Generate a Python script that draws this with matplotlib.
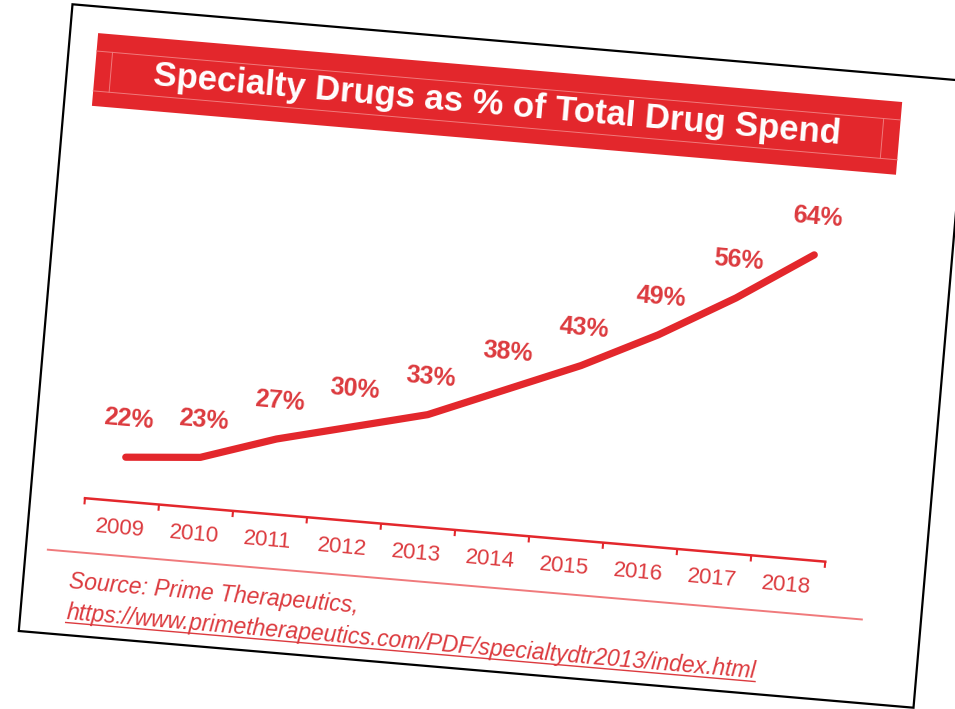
import numpy as np
import matplotlib
matplotlib.use("Agg")
import matplotlib.pyplot as plt
from matplotlib.transforms import Affine2D
from matplotlib.patches import Rectangle

years = ['2009', '2010', '2011', '2012', '2013', '2014', '2015', '2016', '2017', '2018']
share = [22, 23, 27, 30, 33, 38, 43, 49, 56, 64]
title = 'Specialty Drugs as % of Total Drug Spend'
source = 'Source: Prime Therapeutics,'
link = 'https://www.primetherapeutics.com/PDF/specialtydtr2013/index.html'

RED = '#e3272c'
PINK = '#f07a7c'
TXT = '#dc3a3e'
ANGLE = 4.9  # the whole card is tilted clockwise

plt.rcParams['font.family'] = ['Liberation Sans', 'DejaVu Sans']

fig = plt.figure(figsize=(9.55, 7.09), dpi=100)
ax = fig.add_axes([0, 0, 1, 1])
ax.set_xlim(0, 955)
ax.set_ylim(709, 0)
ax.axis('off')

# card coords (pixels, y down) -> tilted picture
tilt = Affine2D().rotate_deg_around(493, 356, ANGLE) + ax.transData
# chart coords (category index, percent) -> card coords
x0, step = 98.6, 74.3
chart = Affine2D().scale(step, -6.2).translate(x0 + step / 2, 624.6) + tilt
base = 14.85  # percent level of the category axis line

# card
ax.add_patch(Rectangle((44, 41.5), 898, 629, transform=tilt,
                       fc='white', ec='black', lw=1.6))

# title band
ax.add_patch(Rectangle((72, 68), 807, 73, transform=tilt, fc=RED, ec='none'))
for yy in (86, 126):
    ax.plot([72, 879], [yy, yy], color=PINK, lw=0.7, transform=tilt)
for xx in (88, 862):
    ax.plot([xx, xx], [86, 126], color=PINK, lw=0.7, transform=tilt)
ax.text(476, 106, title, transform=tilt, rotation=-ANGLE, rotation_mode='anchor',
        ha='center', va='center', color='white', fontsize=25, fontweight='bold')

# line and labels
idx = np.arange(len(years))
ax.plot(idx, share, color=RED, lw=5.2, solid_capstyle='round',
        solid_joinstyle='round', transform=chart)
for i, v in enumerate(share):
    ax.text(i, v + 6.1, f'{v}%', transform=chart, rotation=-ANGLE,
            rotation_mode='anchor', ha='center', va='center',
            color=TXT, fontsize=18, fontweight='bold')

# category axis
ax.plot([-0.5, len(years) - 0.5], [base, base], color=RED, lw=1.8, transform=chart)
ax.vlines(np.arange(len(years) + 1) - 0.5, base - 1.0, base, colors=RED,
          lw=1.5, transform=chart)
for i, y in enumerate(years):
    ax.text(i, base - 4.35, y, transform=chart, rotation=-ANGLE,
            rotation_mode='anchor', ha='center', va='center',
            color=TXT, fontsize=16)

# separator and source
ax.plot([66, 883], [587, 587], color=PINK, lw=1.4, transform=tilt)
ax.text(90, 617, source, transform=tilt, rotation=-ANGLE, rotation_mode='anchor',
        ha='left', va='center', color=TXT, fontsize=16.5, fontstyle='italic')
t = ax.text(90, 648, link, transform=tilt, rotation=0,
            ha='left', va='center', color=TXT, fontsize=16.5, fontstyle='italic')
fig.canvas.draw()
w = t.get_window_extent().width
t.set_rotation(-ANGLE)
t.set_rotation_mode('anchor')
ax.plot([90, 90 + w], [658, 658], color=TXT, lw=1.0, transform=tilt)

fig.savefig('out.png', dpi=100, facecolor='white')
